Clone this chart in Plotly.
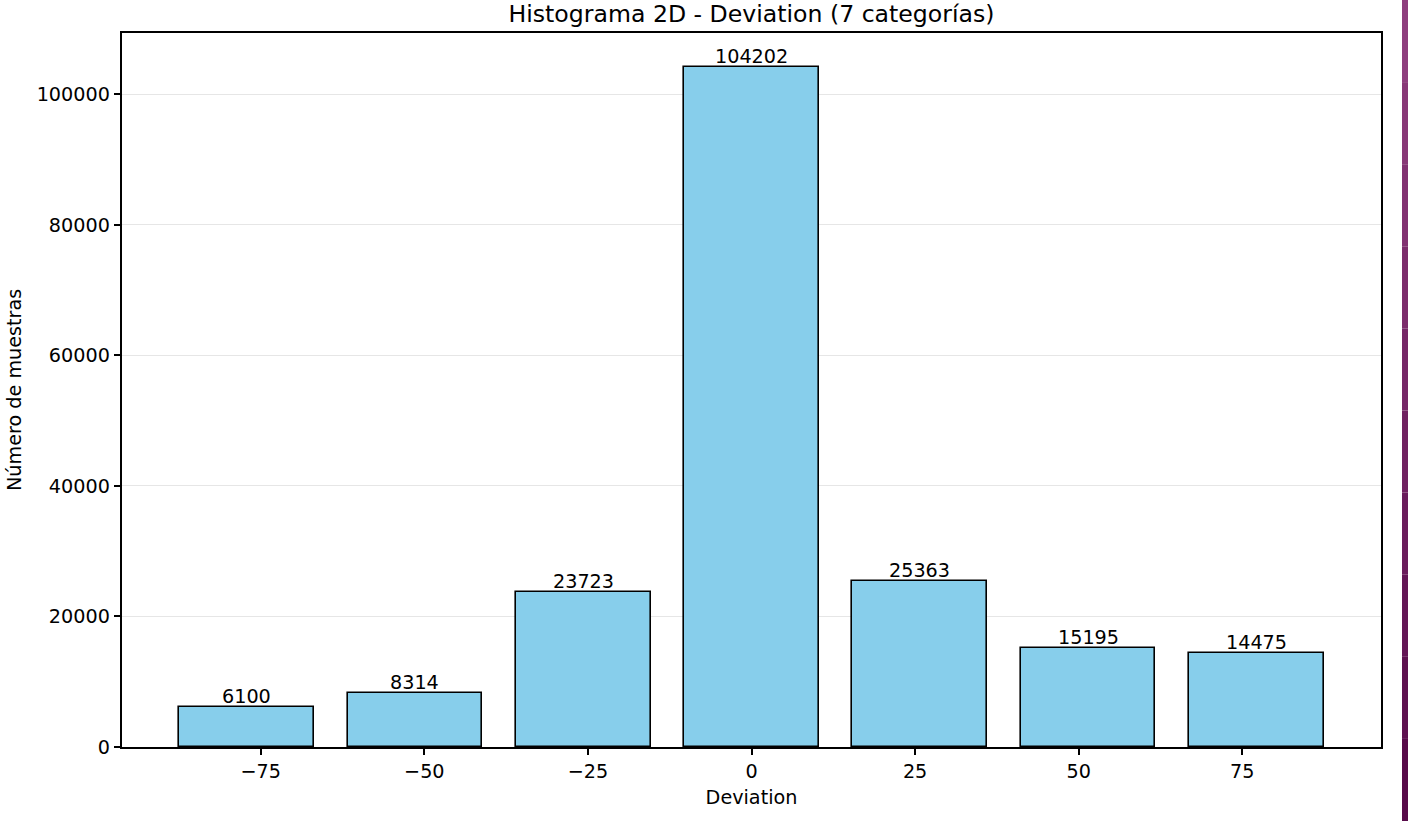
import plotly.graph_objects as go

# Data
bin_centers = [-77.14, -51.43, -25.71, 0.0, 25.71, 51.43, 77.14]
counts = [6100, 8314, 23723, 104202, 25363, 15195, 14475]
bar_width = 20.57
x_tickvals = [-75, -50, -25, 0, 25, 50, 75]
x_ticktext = ["\u221275", "\u221250", "\u221225", "0", "25", "50", "75"]
y_tickvals = [0, 20000, 40000, 60000, 80000, 100000]
y_ticktext = ["0", "20000", "40000", "60000", "80000", "100000"]

FONT = "DejaVu Sans"
FS = 19.2

W, H = 1408, 821
L, T = 122, 33
PW, PH = 1259, 714

fig = go.Figure()
fig.add_trace(go.Bar(
    x=bin_centers, y=counts, width=bar_width,
    marker=dict(color="#87CEEB", line=dict(color="black", width=1.6)),
    hoverinfo="x+y",
))

# value labels above the bars
for xc, c in zip(bin_centers, counts):
    fig.add_annotation(x=xc, y=c, xref="x", yref="y", text=str(c),
                       showarrow=False, xanchor="center", yanchor="bottom",
                       yshift=-3, font=dict(family=FONT, size=FS, color="black"))

fig.update_layout(
    width=W, height=H,
    margin=dict(l=L, r=W - L - PW, t=T, b=H - T - PH, autoexpand=False),
    paper_bgcolor="white", plot_bgcolor="white",
    showlegend=False,
    font=dict(family=FONT, size=FS, color="black"),
    title=dict(text="Histograma 2D - Deviation (7 categorías)",
               xref="paper", x=0.5, xanchor="center",
               yref="container", y=1 - 14 / H, yanchor="middle",
               font=dict(family=FONT, size=23.6, color="black")),
    bargap=0,
)
fig.update_xaxes(
    range=[-96.2, 96.2], tickvals=x_tickvals, ticktext=x_ticktext,
    showgrid=False, zeroline=False,
    showline=True, mirror=True, linecolor="black", linewidth=1.5,
    ticks="outside", ticklen=6.5, tickwidth=1.5, tickcolor="black",
    tickfont=dict(family=FONT, size=FS, color="black"),
    title=dict(text="Deviation", font=dict(family=FONT, size=FS, color="black"), standoff=8),
)
fig.update_yaxes(
    range=[0, 109412], tickvals=y_tickvals, ticktext=y_ticktext,
    showgrid=True, gridcolor="#e6e6e6", gridwidth=1.2, zeroline=False,
    showline=True, mirror=True, linecolor="black", linewidth=1.5,
    ticks="outside", ticklen=6.5, tickwidth=1.5, tickcolor="black",
    tickfont=dict(family=FONT, size=FS, color="black"),
    automargin=False,
)
fig.add_annotation(text="Número de muestras", xref="paper", yref="paper",
                   x=(14 - L) / PW, y=0.5, xanchor="center", yanchor="middle",
                   textangle=-90, showarrow=False,
                   font=dict(family=FONT, size=FS, color="black"))

# purple strip at right edge of the screenshot (approximate gradient)
strip_cols = ["#8e3e7e", "#883877", "#823272", "#7c2c6c", "#762767",
              "#702161", "#6a1c5c", "#641656", "#5e1150", "#580b4a"]
n = len(strip_cols)
y_top = 1 + T / PH
y_bot = 1 - (H - T) / PH
for i, c in enumerate(strip_cols):
    fig.add_shape(type="rect", xref="paper", yref="paper",
                  x0=(1402 - L) / PW, x1=(1410 - L) / PW,
                  y0=y_top - (i + 1) * (y_top - y_bot) / n,
                  y1=y_top - i * (y_top - y_bot) / n,
                  fillcolor=c, line=dict(width=0), layer="above")

fig.write_html("out.html", config={"displayModeBar": False},
               post_script="document.body.style.margin='0';")
